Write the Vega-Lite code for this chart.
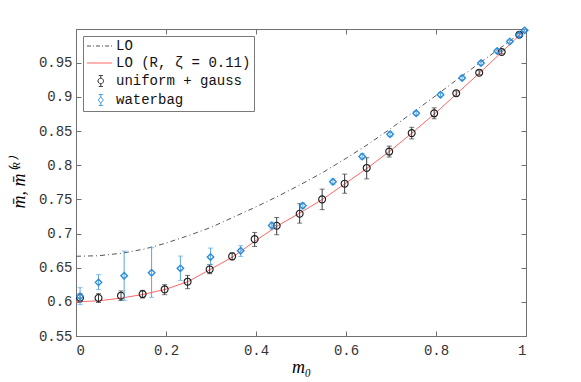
{
  "$schema": "https://vega.github.io/schema/vega-lite/v6.json",
  "width": 450,
  "height": 307,
  "autosize": {"type": "none"},
  "padding": {"left": 76, "top": 29, "right": 55, "bottom": 46},
  "background": "white",
  "config": {
    "view": {"stroke": null},
    "axis": {
      "grid": false,
      "domainColor": "#707070",
      "tickColor": "#707070",
      "tickSize": -5,
      "labelFont": "Liberation Mono",
      "labelFontSize": 14,
      "labelColor": "#333333",
      "titleFont": "Liberation Serif",
      "titleFontStyle": "italic",
      "titleFontWeight": "normal",
      "titleFontSize": 18,
      "titleColor": "#000000"
    },
    "legend": {
      "orient": "top-left",
      "offset": 7,
      "padding": 3,
      "rowPadding": 3,
      "symbolSize": 100,
      "symbolStrokeWidth": 1,
      "labelOffset": 16,
      "labelFont": "Liberation Mono",
      "labelFontSize": 14,
      "labelColor": "#111111",
      "strokeColor": "#7a7a7a",
      "fillColor": "white"
    }
  },
  "datasets": {
    "curves": [
      {"m0": 0.0, "v": 0.6667, "series": "LO"},
      {"m0": 0.05, "v": 0.6675, "series": "LO"},
      {"m0": 0.1, "v": 0.671, "series": "LO"},
      {"m0": 0.15, "v": 0.677, "series": "LO"},
      {"m0": 0.2, "v": 0.686, "series": "LO"},
      {"m0": 0.25, "v": 0.697, "series": "LO"},
      {"m0": 0.3, "v": 0.709, "series": "LO"},
      {"m0": 0.35, "v": 0.724, "series": "LO"},
      {"m0": 0.4, "v": 0.739, "series": "LO"},
      {"m0": 0.45, "v": 0.755, "series": "LO"},
      {"m0": 0.5, "v": 0.772, "series": "LO"},
      {"m0": 0.55, "v": 0.79, "series": "LO"},
      {"m0": 0.6, "v": 0.81, "series": "LO"},
      {"m0": 0.65, "v": 0.831, "series": "LO"},
      {"m0": 0.7, "v": 0.854, "series": "LO"},
      {"m0": 0.75, "v": 0.878, "series": "LO"},
      {"m0": 0.8, "v": 0.902, "series": "LO"},
      {"m0": 0.85, "v": 0.927, "series": "LO"},
      {"m0": 0.9, "v": 0.951, "series": "LO"},
      {"m0": 0.95, "v": 0.975, "series": "LO"},
      {"m0": 1.0, "v": 0.9995, "series": "LO"},
      {"m0": 0.0, "v": 0.6, "series": "LO (R, ζ = 0.11)"},
      {"m0": 0.05, "v": 0.6015, "series": "LO (R, ζ = 0.11)"},
      {"m0": 0.1, "v": 0.6055, "series": "LO (R, ζ = 0.11)"},
      {"m0": 0.15, "v": 0.611, "series": "LO (R, ζ = 0.11)"},
      {"m0": 0.2, "v": 0.6185, "series": "LO (R, ζ = 0.11)"},
      {"m0": 0.25, "v": 0.63, "series": "LO (R, ζ = 0.11)"},
      {"m0": 0.3, "v": 0.648, "series": "LO (R, ζ = 0.11)"},
      {"m0": 0.35, "v": 0.6665, "series": "LO (R, ζ = 0.11)"},
      {"m0": 0.4, "v": 0.69, "series": "LO (R, ζ = 0.11)"},
      {"m0": 0.45, "v": 0.712, "series": "LO (R, ζ = 0.11)"},
      {"m0": 0.5, "v": 0.731, "series": "LO (R, ζ = 0.11)"},
      {"m0": 0.55, "v": 0.751, "series": "LO (R, ζ = 0.11)"},
      {"m0": 0.6, "v": 0.774, "series": "LO (R, ζ = 0.11)"},
      {"m0": 0.65, "v": 0.797, "series": "LO (R, ζ = 0.11)"},
      {"m0": 0.7, "v": 0.822, "series": "LO (R, ζ = 0.11)"},
      {"m0": 0.75, "v": 0.849, "series": "LO (R, ζ = 0.11)"},
      {"m0": 0.8, "v": 0.877, "series": "LO (R, ζ = 0.11)"},
      {"m0": 0.85, "v": 0.907, "series": "LO (R, ζ = 0.11)"},
      {"m0": 0.9, "v": 0.937, "series": "LO (R, ζ = 0.11)"},
      {"m0": 0.95, "v": 0.968, "series": "LO (R, ζ = 0.11)"},
      {"m0": 1.0, "v": 0.9995, "series": "LO (R, ζ = 0.11)"}
    ],
    "points": [
      {"m0": 0.009, "v": 0.606, "lo": 0.601, "hi": 0.612, "series": "uniform + gauss"},
      {"m0": 0.05, "v": 0.6056, "lo": 0.599, "hi": 0.612, "series": "uniform + gauss"},
      {"m0": 0.1, "v": 0.609, "lo": 0.602, "hi": 0.616, "series": "uniform + gauss"},
      {"m0": 0.148, "v": 0.6114, "lo": 0.6056, "hi": 0.6168, "series": "uniform + gauss"},
      {"m0": 0.197, "v": 0.6183, "lo": 0.6105, "hi": 0.6251, "series": "uniform + gauss"},
      {"m0": 0.248, "v": 0.6295, "lo": 0.6193, "hi": 0.6387, "series": "uniform + gauss"},
      {"m0": 0.297, "v": 0.6475, "lo": 0.6412, "hi": 0.6544, "series": "uniform + gauss"},
      {"m0": 0.347, "v": 0.6665, "lo": 0.6617, "hi": 0.6719, "series": "uniform + gauss"},
      {"m0": 0.397, "v": 0.6918, "lo": 0.6811, "hi": 0.7016, "series": "uniform + gauss"},
      {"m0": 0.446, "v": 0.7114, "lo": 0.6982, "hi": 0.7235, "series": "uniform + gauss"},
      {"m0": 0.497, "v": 0.729, "lo": 0.7152, "hi": 0.7436, "series": "uniform + gauss"},
      {"m0": 0.547, "v": 0.75, "lo": 0.735, "hi": 0.765, "series": "uniform + gauss"},
      {"m0": 0.597, "v": 0.773, "lo": 0.759, "hi": 0.787, "series": "uniform + gauss"},
      {"m0": 0.646, "v": 0.796, "lo": 0.78, "hi": 0.811, "series": "uniform + gauss"},
      {"m0": 0.696, "v": 0.82, "lo": 0.812, "hi": 0.828, "series": "uniform + gauss"},
      {"m0": 0.746, "v": 0.847, "lo": 0.8385, "hi": 0.8555, "series": "uniform + gauss"},
      {"m0": 0.796, "v": 0.876, "lo": 0.868, "hi": 0.884, "series": "uniform + gauss"},
      {"m0": 0.845, "v": 0.9053, "lo": 0.901, "hi": 0.909, "series": "uniform + gauss"},
      {"m0": 0.896, "v": 0.9355, "lo": 0.9325, "hi": 0.9385, "series": "uniform + gauss"},
      {"m0": 0.946, "v": 0.9658, "lo": 0.963, "hi": 0.969, "series": "uniform + gauss"},
      {"m0": 0.985, "v": 0.991, "lo": 0.988, "hi": 0.994, "series": "uniform + gauss"},
      {"m0": 0.009, "v": 0.608, "lo": 0.596, "hi": 0.6208, "series": "waterbag"},
      {"m0": 0.05, "v": 0.6285, "lo": 0.6178, "hi": 0.6398, "series": "waterbag"},
      {"m0": 0.107, "v": 0.6383, "lo": 0.6022, "hi": 0.6743, "series": "waterbag"},
      {"m0": 0.168, "v": 0.6427, "lo": 0.6066, "hi": 0.6792, "series": "waterbag"},
      {"m0": 0.232, "v": 0.649, "lo": 0.6314, "hi": 0.667, "series": "waterbag"},
      {"m0": 0.299, "v": 0.6655, "lo": 0.6548, "hi": 0.6787, "series": "waterbag"},
      {"m0": 0.366, "v": 0.6748, "lo": 0.6665, "hi": 0.6822, "series": "waterbag"},
      {"m0": 0.435, "v": 0.7118, "lo": 0.7064, "hi": 0.7167, "series": "waterbag"},
      {"m0": 0.504, "v": 0.7406, "lo": 0.737, "hi": 0.745, "series": "waterbag"},
      {"m0": 0.571, "v": 0.7757, "lo": 0.772, "hi": 0.78, "series": "waterbag"},
      {"m0": 0.636, "v": 0.8127, "lo": 0.809, "hi": 0.817, "series": "waterbag"},
      {"m0": 0.698, "v": 0.8453, "lo": 0.842, "hi": 0.849, "series": "waterbag"},
      {"m0": 0.756, "v": 0.876, "lo": 0.873, "hi": 0.879, "series": "waterbag"},
      {"m0": 0.81, "v": 0.903, "lo": 0.9, "hi": 0.906, "series": "waterbag"},
      {"m0": 0.858, "v": 0.9278, "lo": 0.925, "hi": 0.931, "series": "waterbag"},
      {"m0": 0.9, "v": 0.9497, "lo": 0.947, "hi": 0.952, "series": "waterbag"},
      {"m0": 0.936, "v": 0.9672, "lo": 0.965, "hi": 0.97, "series": "waterbag"},
      {"m0": 0.964, "v": 0.981, "lo": 0.979, "hi": 0.983, "series": "waterbag"},
      {"m0": 0.985, "v": 0.9906, "lo": 0.9885, "hi": 0.9925, "series": "waterbag"},
      {"m0": 0.997, "v": 0.9974, "lo": 0.9955, "hi": 0.9993, "series": "waterbag"}
    ]
  },
  "layer": [
    {
      "data": {"name": "curves"},
      "transform": [{"filter": "datum.series === 'LO'"}],
      "mark": {"type": "line", "color": "#555555", "strokeWidth": 1, "strokeDash": [5, 3, 1, 3]},
      "encoding": {
        "x": {
          "field": "m0", "type": "quantitative",
          "scale": {"domain": [0, 1], "nice": false, "zero": false},
          "axis": {"orient": "bottom", "values": [0, 0.2, 0.4, 0.6, 0.8, 1], "format": ".1~f", "labelPadding": 12, "title": "m₀", "titlePadding": 1}
        },
        "y": {
          "field": "v", "type": "quantitative",
          "scale": {"domain": [0.55, 0.9994], "nice": false, "zero": false},
          "axis": {"orient": "left", "values": [0.55, 0.6, 0.65, 0.7, 0.75, 0.8, 0.85, 0.9, 0.95], "format": ".2~f", "labelPadding": 9, "title": "m̄, m̄⁽ᴿ⁾", "titlePadding": 10}
        }
      }
    },
    {
      "data": {"name": "curves"},
      "transform": [{"filter": "datum.series === 'LO (R, ζ = 0.11)'"}],
      "mark": {"type": "line", "color": "#ff6666", "strokeWidth": 1},
      "encoding": {
        "x": {
          "field": "m0", "type": "quantitative",
          "axis": {"orient": "top", "values": [0, 0.2, 0.4, 0.6, 0.8, 1], "labels": false, "title": null}
        },
        "y": {
          "field": "v", "type": "quantitative",
          "axis": {"orient": "right", "values": [0.55, 0.6, 0.65, 0.7, 0.75, 0.8, 0.85, 0.9, 0.95], "labels": false, "title": null}
        }
      }
    },
    {
      "data": {"name": "points"},
      "transform": [{"filter": "datum.series === 'uniform + gauss'"}],
      "mark": {"type": "errorbar", "ticks": true, "size": 5, "thickness": 1, "color": "#3a3a3a"},
      "encoding": {
        "x": {"field": "m0", "type": "quantitative", "axis": null},
        "y": {"field": "lo", "type": "quantitative", "axis": null},
        "y2": {"field": "hi"}
      }
    },
    {
      "data": {"name": "points"},
      "transform": [{"filter": "datum.series === 'uniform + gauss'"}],
      "mark": {"type": "point", "shape": "circle", "filled": false, "size": 48, "strokeWidth": 1.1, "opacity": 1, "color": "#1a1a1a"},
      "encoding": {
        "x": {"field": "m0", "type": "quantitative", "axis": null},
        "y": {"field": "v", "type": "quantitative", "axis": null}
      }
    },
    {
      "data": {"name": "points"},
      "transform": [{"filter": "datum.series === 'waterbag'"}],
      "mark": {"type": "errorbar", "ticks": true, "size": 5, "thickness": 1, "color": "#5aa5e3"},
      "encoding": {
        "x": {"field": "m0", "type": "quantitative", "axis": null},
        "y": {"field": "lo", "type": "quantitative", "axis": null},
        "y2": {"field": "hi"}
      }
    },
    {
      "data": {"name": "points"},
      "transform": [{"filter": "datum.series === 'waterbag'"}],
      "mark": {"type": "point", "shape": "diamond", "filled": false, "size": 42, "strokeWidth": 1.4, "opacity": 1, "color": "#2a8bd8"},
      "encoding": {
        "x": {"field": "m0", "type": "quantitative", "axis": null},
        "y": {"field": "v", "type": "quantitative", "axis": null}
      }
    },
    {
      "data": {"name": "points"},
      "transform": [{"filter": "datum.m0 < 0"}],
      "mark": {"type": "point", "filled": false, "opacity": 1, "strokeWidth": 1},
      "encoding": {
        "x": {"field": "m0", "type": "quantitative", "axis": null},
        "y": {"field": "v", "type": "quantitative", "axis": null},
        "color": {
          "field": "series", "type": "nominal",
          "scale": {"domain": ["LO", "LO (R, ζ = 0.11)", "uniform + gauss", "waterbag"], "range": ["#555555", "#ff6666", "#222222", "#2a8bd8"]},
          "legend": {"title": null}
        },
        "shape": {
          "field": "series", "type": "nominal",
          "scale": {"domain": ["LO", "LO (R, ζ = 0.11)", "uniform + gauss", "waterbag"], "range": ["M-1.2,0H3.8", "M-1.2,0H3.8", "M1.0,0A0.55,0.55 0 1,0 2.1,0A0.55,0.55 0 1,0 1.0,0ZM1.55,-0.55V-1.1M1.15,-1.1H1.95M1.55,0.55V1.1M1.15,1.1H1.95", "M1.55,-0.65L2.05,0L1.55,0.65L1.05,0ZM1.55,-0.65V-1.1M1.15,-1.1H1.95M1.55,0.65V1.1M1.15,1.1H1.95"]},
          "legend": {"title": null}
        },
        "strokeDash": {
          "field": "series", "type": "nominal",
          "scale": {"domain": ["LO", "LO (R, ζ = 0.11)", "uniform + gauss", "waterbag"], "range": [[4, 2, 1, 2], [1, 0], [1, 0], [1, 0]]},
          "legend": {"title": null}
        }
      }
    }
  ],
  "resolve": {"axis": {"x": "independent", "y": "independent"}}
}
